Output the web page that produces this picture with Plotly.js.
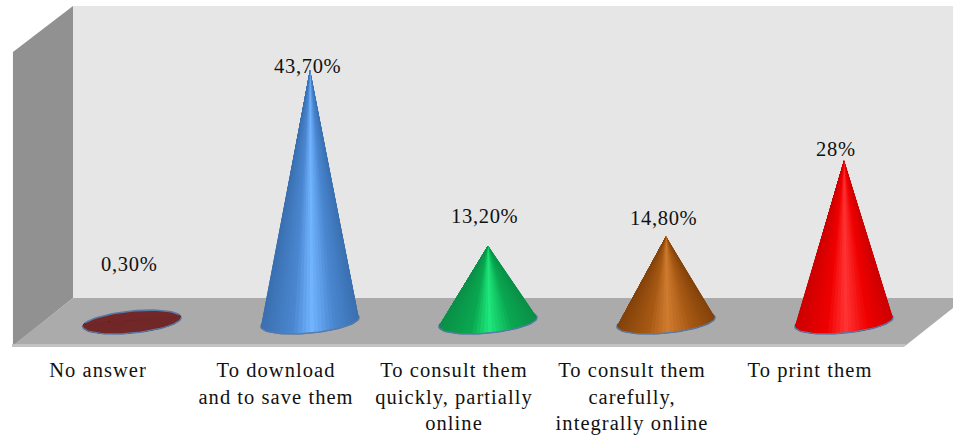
<!DOCTYPE html>
<html>
<head>
<meta charset="utf-8">
<script src="https://cdn.plot.ly/plotly-3.0.1.min.js"></script>
<style>
  html, body { margin: 0; padding: 0; background: #fff; }
  #chart { width: 953px; height: 436px; }
  .xtick text { letter-spacing: 1.05px; }
  .annotation-text { letter-spacing: 0.7px; }
</style>
</head>
<body>
<div id="chart"></div>
<script>
// Survey results: how respondents use the documents
const categories = [
  'No answer',
  'To download<br>and to save them',
  'To consult them<br>quickly, partially<br>online',
  'To consult them<br>carefully,<br>integrally online',
  'To print them'
];
const values = [0.3, 43.7, 13.2, 14.8, 28];
const valueLabels = ['0,30%', '43,70%', '13,20%', '14,80%', '28%'];

// Edge, mid and highlight tones of each cone's surface
const edgeTones = ['#722828', '#3a70b0', '#0a9048', '#84420a', '#cc0000'];
const midTones = ['#722828', '#4a86d0', '#0aa850', '#a85a14', '#f00000'];
const highTones = ['#722828', '#72b4ff', '#1ee87c', '#d07c30', '#ff3434'];

// Hand-placed label offsets, in pixels from each cone tip
const labelShiftX = [-3, -3, -4, -3, -8];
const labelShiftY = [56, 4, 30, 19, 11];

const W = 953, H = 436, plotH = 346;
const pxPerX = 178, pxPerValue = 5.77;
const tickOrigin = 98;          // pixel x of the first category label
const baseline = 322;           // pixel y of value zero
const depthShift = 34 / pxPerX; // cones stand further back than their labels

const xRange = [-tickOrigin / pxPerX, (W - tickOrigin) / pxPerX];
const yRange = [(baseline - plotH) / pxPerValue, baseline / pxPerValue];

// Base ellipse of a cone, tilted by the oblique projection
const radiusX = 49 / pxPerX, radiusY = 11 / pxPerValue, tilt = 4.5 / pxPerValue;
function rim(cx, t) {
  return [cx + radiusX * Math.cos(t), tilt * Math.cos(t) - radiusY * Math.sin(t)];
}

function hexToRgb(h) {
  return [1, 3, 5].map(i => parseInt(h.slice(i, i + 2), 16));
}
function mix(a, b, f) {
  const p = hexToRgb(a), q = hexToRgb(b);
  return 'rgb(' + p.map((v, i) => Math.round(v + (q[i] - v) * f)).join(',') + ')';
}
// Surface tone across the cone: u runs from -1 at the left edge to 1 at the right
function shade(i, u) {
  if (u < -0.35) return mix(edgeTones[i], midTones[i], (u + 1) / 0.65);
  if (u < 0.03) return mix(midTones[i], highTones[i], (u + 0.35) / 0.38);
  if (u < 0.5) return mix(highTones[i], midTones[i], (u - 0.03) / 0.47);
  return mix(midTones[i], edgeTones[i], (u - 0.5) / 0.5);
}

const traces = [];
values.forEach((v, i) => {
  const cx = i + depthShift;

  // Full base ellipse with its blue rim
  const ex = [], ey = [];
  for (let k = 0; k <= 72; k++) {
    const p = rim(cx, k / 72 * 2 * Math.PI);
    ex.push(p[0]); ey.push(p[1]);
  }
  traces.push({
    x: ex, y: ey, mode: 'lines', fill: 'toself', fillcolor: midTones[i],
    line: { color: '#5a7aa6', width: 1.6 }, hoverinfo: 'skip', showlegend: false
  });

  // Cone surface painted right to left: each wedge runs from the tip across the
  // remaining front of the base, so neighbouring tones overlap without seams
  const n = 44, start = -0.25, end = Math.PI + 0.25;
  for (let k = 0; k < n; k++) {
    const t0 = start + (end - start) * k / n;
    const t1 = start + (end - start) * (k + 1) / n;
    const col = shade(i, Math.cos((t0 + t1) / 2));
    const wx = [cx], wy = [v];
    for (let m = k; m <= n; m++) {
      const p = rim(cx, start + (end - start) * m / n);
      wx.push(p[0]); wy.push(p[1]);
    }
    wx.push(cx); wy.push(v);
    traces.push({
      x: wx, y: wy, mode: 'lines', fill: 'toself', fillcolor: col,
      line: { width: 0 }, hoverinfo: 'skip', showlegend: false
    });
  }

  // Rim along the front of the base
  const fx = [], fy = [];
  for (let k = 0; k <= 36; k++) {
    const p = rim(cx, k / 36 * Math.PI);
    fx.push(p[0]); fy.push(p[1]);
  }
  traces.push({
    x: fx, y: fy, mode: 'lines', line: { color: '#5a7aa6', width: 1.2 },
    hoverinfo: 'skip', showlegend: false
  });
});

// Chart box: back wall, side wall and floor, given in page pixels
const px = (x, y) => (x / W).toFixed(4) + ',' + ((plotH - y) / plotH).toFixed(4);
function box(points, color) {
  return {
    type: 'path', xref: 'paper', yref: 'paper', layer: 'below',
    path: 'M' + points.map(p => px(p[0], p[1])).join('L') + 'Z',
    fillcolor: color, line: { width: 0 }
  };
}
const shapes = [
  box([[73, 6], [953, 6], [953, 298], [73, 298]], '#e6e6e6'),
  box([[13, 52], [73, 6], [73, 298], [13, 346]], '#919191'),
  box([[73, 298], [953, 298], [953, 308], [905, 346], [12, 346]], '#ababab'),
  box([[12, 344], [906, 344], [904, 347], [12, 347]], '#c2c2c2')
];

const annotations = values.map((v, i) => ({
  x: i + depthShift, y: v, xref: 'x', yref: 'y',
  text: valueLabels[i], showarrow: false,
  xanchor: 'center', yanchor: 'middle',
  xshift: labelShiftX[i], yshift: labelShiftY[i],
  font: { family: '"Liberation Serif", serif', size: 20.5, color: '#111' }
}));

const layout = {
  width: W, height: H,
  margin: { l: 0, r: 0, t: 0, b: H - plotH, pad: 0 },
  paper_bgcolor: '#fff', plot_bgcolor: 'rgba(0,0,0,0)',
  showlegend: false,
  xaxis: {
    range: xRange, showgrid: false, zeroline: false, showline: false,
    tickmode: 'array', tickvals: categories.map((c, i) => i), ticktext: categories,
    ticks: 'outside', ticklen: 5.5, tickcolor: 'rgba(0,0,0,0)', tickangle: 0,
    tickfont: { family: '"Liberation Serif", serif', size: 20.5, color: '#111' }
  },
  yaxis: { range: yRange, visible: false, showgrid: false, zeroline: false },
  shapes: shapes,
  annotations: annotations
};

Plotly.newPlot('chart', traces, layout, { staticPlot: true, displayModeBar: false });
</script>
</body>
</html>
